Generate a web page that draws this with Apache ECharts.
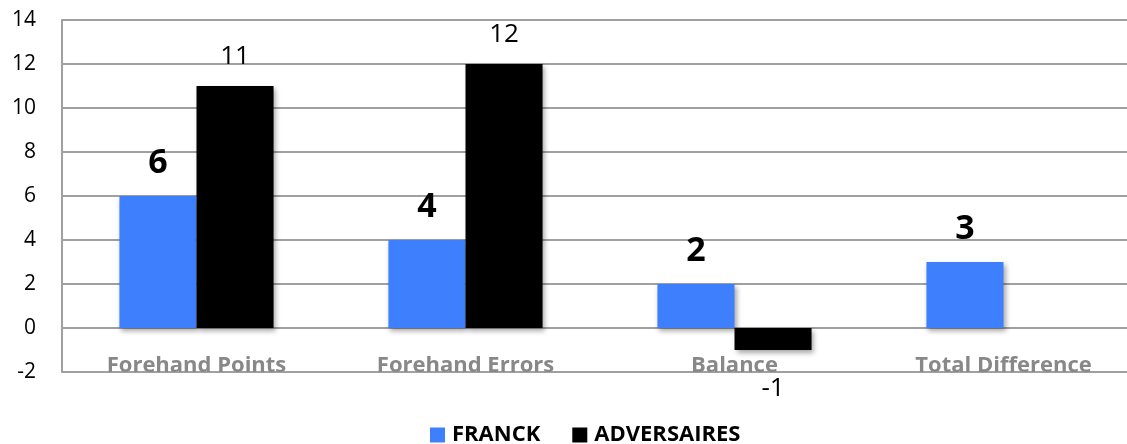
<!DOCTYPE html>
<html><head><meta charset="utf-8">
<script src="https://cdn.jsdelivr.net/npm/echarts@6/dist/echarts.min.js"></script>
<style>html,body{margin:0;padding:0;background:#fff;overflow:hidden}#c{width:1138px;height:444px}</style>
</head><body><div id="c"></div>
<script>
var categories = ['Forehand Points', 'Forehand Errors', 'Balance', 'Total Difference'];
var franck = [6, 4, 2, 3];
var adversaires = [11, 12, -1, null];
var yTicks = { min: -2, max: 14, interval: 2 };

var FONT = 'Open Sans';
var chart = echarts.init(document.getElementById('c'), null, { renderer: 'canvas' });
var shadow = { shadowBlur: 5, shadowOffsetX: 2, shadowOffsetY: 3, shadowColor: 'rgba(0,0,0,0.35)' };
var advData = adversaires.map(function (v) {
  if (v !== null && v < 0) return { value: v, label: { position: 'bottom', distance: 26 } };
  return v;
});
chart.setOption({
  animation: false,
  textStyle: { fontFamily: FONT },
  grid: { left: 62, width: 1076, top: 20, height: 352, containLabel: false },
  legend: {
    left: 430, top: 424, padding: 0, itemWidth: 15, itemHeight: 15, itemGap: 32, icon: 'rect',
    textStyle: { fontFamily: FONT, fontWeight: 'bold', fontSize: 22, color: '#000', padding: [0, 0, 0, 2] },
    data: ['FRANCK', 'ADVERSAIRES']
  },
  xAxis: {
    type: 'category', data: categories, offset: -44,
    axisLine: { show: true, onZero: false, lineStyle: { color: '#a0a0a0', width: 2 } },
    axisTick: { show: false },
    axisLabel: { margin: 27, fontFamily: FONT, fontWeight: 'bold', fontSize: 22, color: '#888888' }
  },
  yAxis: {
    type: 'value', min: yTicks.min, max: yTicks.max, interval: yTicks.interval,
    axisLine: { show: true, lineStyle: { color: '#a0a0a0', width: 2 } },
    axisTick: { show: false },
    splitLine: { lineStyle: { color: '#a0a0a0', width: 2 } },
    axisLabel: { margin: 26, fontFamily: FONT, fontSize: 21, color: '#000' }
  },
  series: [
    {
      name: 'FRANCK', type: 'bar', data: franck, barGap: '0%', barCategoryGap: '42.7%',
      itemStyle: Object.assign({ color: '#3e7ffe' }, shadow),
      label: { show: true, position: 'top', distance: 16, fontFamily: FONT, fontWeight: 'bold', fontSize: 34, color: '#000' }
    },
    {
      name: 'ADVERSAIRES', type: 'bar', data: advData,
      itemStyle: Object.assign({ color: '#000' }, shadow),
      label: { show: true, position: 'top', distance: 16, fontFamily: FONT, fontSize: 26, color: '#000' }
    }
  ]
});
</script>
</body></html>
